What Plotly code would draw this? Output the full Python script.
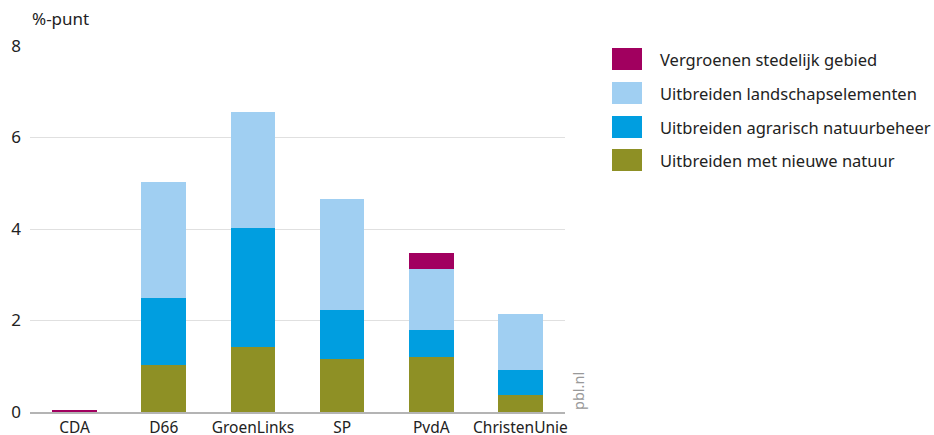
import plotly.graph_objects as go

categories = ["CDA", "D66", "GroenLinks", "SP", "PvdA", "ChristenUnie"]
nieuwe_natuur = [0, 1.03, 1.42, 1.16, 1.20, 0.37]
agrarisch_natuurbeheer = [0, 1.46, 2.60, 1.07, 0.59, 0.55]
landschapselementen = [0, 2.54, 2.54, 2.43, 1.34, 1.22]
vergroenen_stedelijk = [0.04, 0, 0, 0, 0.35, 0]

series_names = [
    "Uitbreiden met nieuwe natuur",
    "Uitbreiden agrarisch natuurbeheer",
    "Uitbreiden landschapselementen",
    "Vergroenen stedelijk gebied",
]
series_values = [nieuwe_natuur, agrarisch_natuurbeheer, landschapselementen, vergroenen_stedelijk]
colors = ["#8E9025", "#009EE0", "#A0CFF2", "#A1005F"]

y_ticks = [0, 2, 4, 6, 8]
y_ticklabels = ["0", "2", "4", "6", "8"]

FONT = "Noto Sans"

fig = go.Figure()
for name, vals, col in zip(series_names, series_values, colors):
    fig.add_trace(go.Bar(
        x=categories, y=vals, name=name,
        marker=dict(color=col, line=dict(width=0)),
        showlegend=False,
        hoverinfo="x+y+name",
    ))

W, H = 934, 435
L, R, T, B = 30, 369, 46, 23
pw = W - L - R
ph = H - T - B

def px_x(x):
    return (x - L) / pw

def px_y(y):
    return (H - B - y) / ph

# custom legend (top item = last series)
row_centers = [59, 93, 127, 160]
shapes = []
annotations = []
for i, idx in enumerate([3, 2, 1, 0]):
    yc = row_centers[i]
    shapes.append(dict(
        type="rect", xref="paper", yref="paper",
        x0=px_x(612), x1=px_x(642), y0=px_y(yc + 11), y1=px_y(yc - 11),
        fillcolor=colors[idx], line=dict(width=0),
    ))
    annotations.append(dict(
        xref="paper", yref="paper", x=px_x(658), y=px_y(yc),
        text=series_names[idx], showarrow=False, xanchor="left", yanchor="middle",
        font=dict(family=FONT, size=16.5, color="#222"),
    ))

annotations.append(dict(
    xref="paper", yref="paper", x=0, y=1, yshift=28,
    text="%-punt", showarrow=False, xanchor="left", yanchor="middle",
    font=dict(family=FONT, size=17, color="#222"),
))
annotations.append(dict(
    xref="paper", yref="paper", x=px_x(578), y=px_y(391),
    text="pbl.nl", showarrow=False, textangle=-90, xanchor="center", yanchor="middle",
    font=dict(family=FONT, size=14.5, color="#999"),
))

fig.update_layout(
    barmode="stack",
    bargap=0.5,
    width=W, height=H,
    margin=dict(l=L, r=R, t=T, b=B, autoexpand=False),
    plot_bgcolor="white", paper_bgcolor="white",
    font=dict(family=FONT, size=16, color="#222"),
    shapes=shapes,
    annotations=annotations,
    xaxis=dict(
        showgrid=False, showline=True, linecolor="#B4B4B4", linewidth=2,
        ticks="", tickfont=dict(size=15.5, color="#222"), automargin=False,
        ticklabelstandoff=0,
    ),
    yaxis=dict(
        range=[0, 8], tickvals=y_ticks, ticktext=y_ticklabels,
        showgrid=True, gridcolor="#E0E0E0", gridwidth=1,
        zeroline=False, showline=False, ticks="",
        tickfont=dict(size=17, color="#222"), automargin=False,
        ticklabelstandoff=8,
    ),
)

fig.write_html(
    "out.html",
    config={"displayModeBar": False},
    post_script="document.body.style.margin='0';document.body.style.padding='0';",
)
